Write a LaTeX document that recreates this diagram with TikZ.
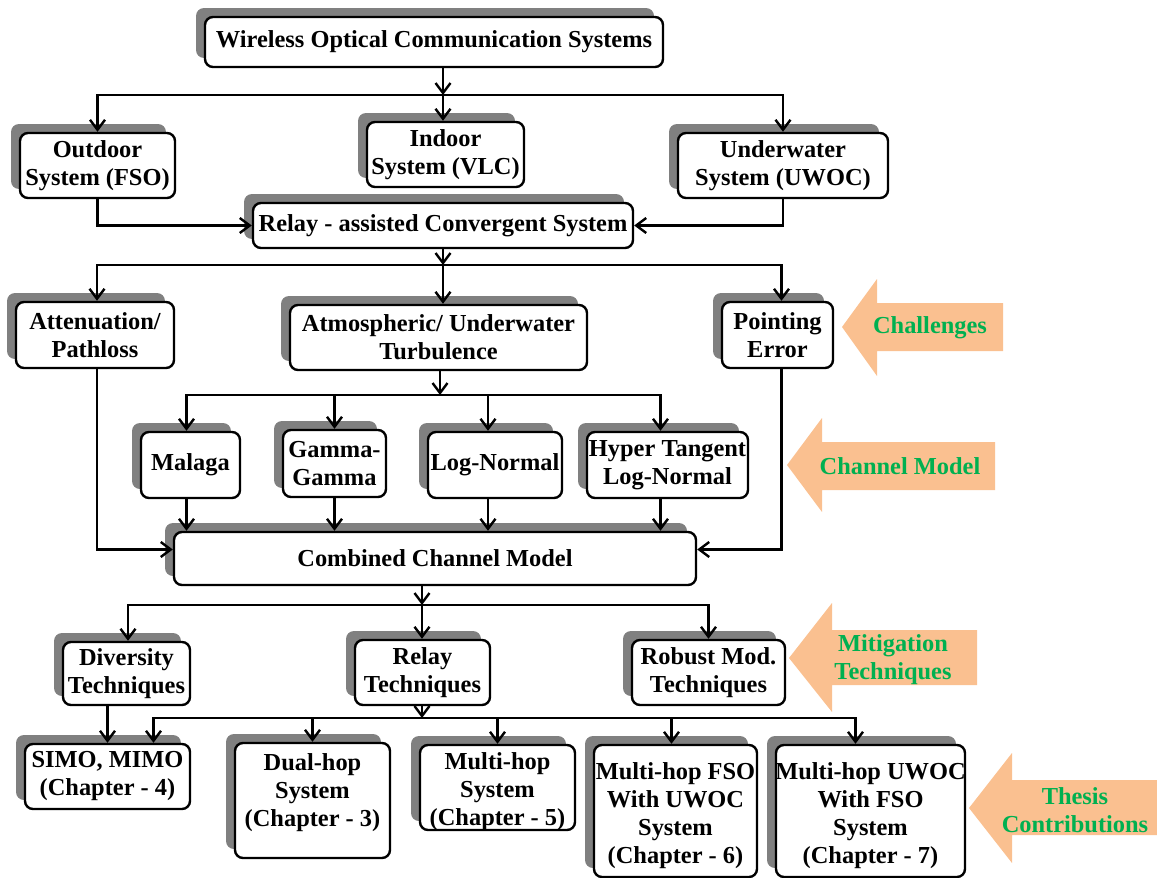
\documentclass[tikz,border=0pt]{standalone}
\usepackage{fontspec}
\setmainfont{Liberation Serif}
\usetikzlibrary{arrows.meta,shadows}

\definecolor{shadowgray}{RGB}{128,128,128}
\definecolor{calloutfill}{RGB}{250,192,144}
\definecolor{calloutgreen}{RGB}{0,176,80}

\newcommand\labelfont{\bfseries\fontsize{24.4}{28}\selectfont}

\tikzset{
  box/.style={draw=black, line width=2.4pt, rounded corners=8pt, fill=white,
    align=center, inner sep=0pt, font=\labelfont,
    general shadow={fill=shadowgray, shadow xshift=-9pt, shadow yshift=9pt}},
  boxsize/.style 2 args={minimum width=#1pt, minimum height=#2pt},
  boxtext/.style={align=center, inner sep=0pt, font=\labelfont},
  link/.style={line width=2.4pt, -{Straight Barb[length=10pt,width=15pt]}},
  callout/.style={fill=calloutfill, draw=none},
  callouttext/.style={text=calloutgreen, align=center, inner sep=0pt, font=\labelfont},
}

\begin{document}
\begin{tikzpicture}[x=1pt, y=-1pt]
\useasboundingbox (0,0) rectangle (1157,878);

% ---- system level ----
\node[box, boxsize={458}{50}] (wocs) at (434,42) {Wireless Optical Communication Systems};
\node[box, boxsize={155}{65}] (outdoor) at (97.5,165.5) {Outdoor\\System (FSO)};
\node[box, boxsize={157}{65}] (indoor) at (445.5,154.5) {Indoor\\System (VLC)};
\node[box, boxsize={210}{65}] (underwater) at (783,165.5) {Underwater\\System (UWOC)};
\node[box, boxsize={380}{45}] (relay) at (443,225.5) {Relay - assisted Convergent System};

% ---- challenges ----
\node[box, boxsize={158}{66}] (atten) at (95,335) {Attenuation/\\Pathloss};
\node[box, boxsize={297}{65}] (atmos) at (438.5,337.5) {Atmospheric/ Underwater\\Turbulence};
\node[box, boxsize={111}{66}] (pointing) at (777.5,335) {Pointing\\Error};

% ---- channel models ----
\node[box, boxsize={99}{66}] (malaga) at (190.5,465) {Malaga};
\node[box, boxsize={103}{67}] (gamma) at (334.5,463.5) {Gamma-\\Gamma};
\node[box, boxsize={134}{66}] (lognormal) at (495,465) {Log-Normal};
\node[box, boxsize={161}{66}] (hyper) at (667.5,465) {Hyper Tangent\\Log-Normal};
\node[box, boxsize={522}{53}] (combined) at (435,558.5) {Combined Channel Model};

% ---- mitigation ----
\node[box, boxsize={127}{63}] (diversity) at (126.5,673.5) {Diversity\\Techniques};
\node[box, boxsize={135}{65}] (relaytech) at (422.5,672.5) {Relay\\Techniques};
\node[box, boxsize={153}{65}] (robust) at (708.5,672.5) {Robust Mod.\\Techniques};

% ---- contributions (tall boxes carry their text separately) ----
\node[box, boxsize={165}{65}] (simo) at (107.5,776.5) {SIMO, MIMO\\(Chapter - 4)};
\node[box, boxsize={155}{115}] (dualhop) at (312.5,800.5) {};
\node[boxtext] (dualhoptext) at (312.5,793) {Dual-hop\\System\\(Chapter - 3)};
\node[box, boxsize={155}{85}] (multihop) at (497.5,787.5) {};
\node[boxtext] (multihoptext) at (497.5,792) {Multi-hop\\System\\(Chapter - 5)};
\node[box, boxsize={163}{132}] (mhfso) at (675.5,811) {};
\node[boxtext] (mhfsotext) at (675.5,816) {Multi-hop FSO\\With UWOC\\System\\(Chapter - 6)};
\node[box, boxsize={189}{132}] (mhuwoc) at (870.5,811) {};
\node[boxtext] (mhuwoctext) at (870.5,816) {Multi-hop UWOC\\With FSO\\System\\(Chapter - 7)};

% ---- branch points ----
\coordinate (b1) at (443,95);
\coordinate (b2) at (443,265);
\coordinate (b3) at (440,395);
\coordinate (b4) at (422,605);
\coordinate (b5) at (422,718);

% ---- connectors ----
\draw[link] (wocs.south -| b1) -- (b1);
\draw[link] (b1) -| (outdoor.north);
\draw[link] (b1) -- (indoor.north -| b1);
\draw[link] (b1) -| (underwater.north);
\draw[link] (outdoor.south) |- (relay.west);
\draw[link] (underwater.south) |- (relay.east);

\draw[link] (relay.south -| b2) -- (b2);
\draw[link] (b2) -| ([xshift=2pt]atten.north);
\draw[link] (b2) -- (atmos.north -| b2);
\draw[link] (b2) -| ([xshift=4pt]pointing.north);

\draw[link] (atmos.south -| b3) -- (b3);
\draw[link] (b3) -| ([xshift=-4pt]malaga.north);
\draw[link] (b3) -| (gamma.north);
\draw[link] (b3) -| ([xshift=-7pt]lognormal.north);
\draw[link] (b3) -| ([xshift=-7pt]hyper.north);

\draw[link] ([xshift=-4pt]malaga.south) -- ([xshift=-4pt]malaga.south |- combined.north);
\draw[link] (gamma.south) -- (gamma.south |- combined.north);
\draw[link] ([xshift=-7pt]lognormal.south) -- ([xshift=-7pt]lognormal.south |- combined.north);
\draw[link] ([xshift=-7pt]hyper.south) -- ([xshift=-7pt]hyper.south |- combined.north);
\draw[link] ([xshift=2pt]atten.south) |- ([yshift=9pt]combined.west);
\draw[link] ([xshift=4pt]pointing.south) |- ([yshift=9pt]combined.east);

\draw[link] (combined.south -| b4) -- (b4);
\draw[link] (b4) -| ([xshift=1.5pt]diversity.north);
\draw[link] (b4) -- (relaytech.north -| b4);
\draw[link] (b4) -| (robust.north);

\draw[link] (diversity.south -| simo.north) -- (simo.north);
\draw[link] (relaytech.south -| b5) -- (b5);
\draw[link] (b5) -| ([xshift=46pt]simo.north);
\draw[link] (b5) -| (dualhop.north);
\draw[link] (b5) -| (multihop.north);
\draw[link] (b5) -| ([xshift=-4pt]mhfso.north);
\draw[link] (b5) -| ([xshift=-15pt]mhuwoc.north);

% ---- side callouts ----
\fill[callout] (842,327) -- (877,279) -- (877,303) -- (1003,303) -- (1003,351)
  -- (877,351) -- (877,376) -- cycle;
\node[callouttext] (challenges) at (930,328) {Challenges};

\fill[callout] (787,465) -- (822,418) -- (822,442) -- (995,442) -- (995,490)
  -- (822,490) -- (822,512) -- cycle;
\node[callouttext] (channelmodel) at (900,466) {Channel Model};

\fill[callout] (789,658) -- (832,603) -- (832,630) -- (977,630) -- (977,685)
  -- (832,685) -- (832,712) -- cycle;
\node[callouttext] (mitigation) at (893,660) {Mitigation\\Techniques};

\fill[callout] (969,808) -- (1012,753) -- (1012,780) -- (1160,780) -- (1160,835)
  -- (1012,835) -- (1012,863) -- cycle;
\node[callouttext] (thesis) at (1075,810) {Thesis\\Contributions};
\end{tikzpicture}
\end{document}
